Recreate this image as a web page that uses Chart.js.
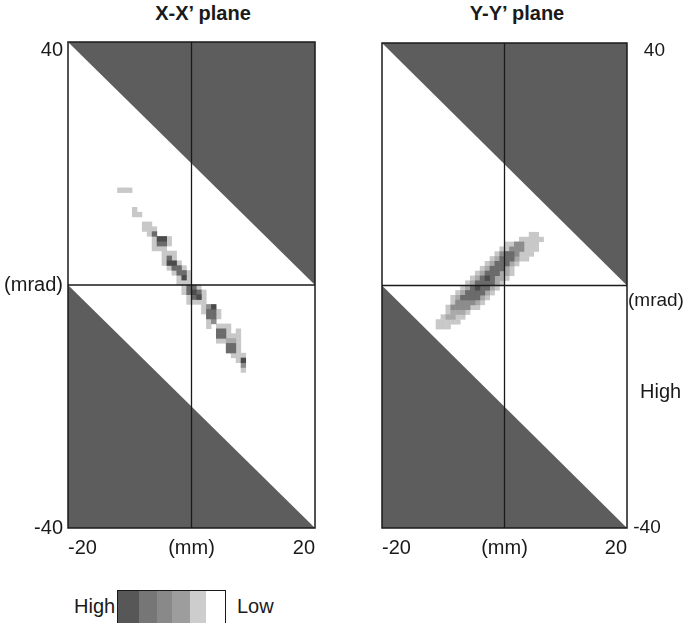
<!DOCTYPE html>
<html>
<head>
<meta charset="utf-8">
<script src="https://cdn.jsdelivr.net/npm/chart.js@4.4.1/dist/chart.umd.min.js"></script>
<style>
  body { margin: 0; background: #fff; width: 685px; height: 623px; overflow: hidden; position: relative;
         font-family: 'Liberation Sans', Arial, sans-serif; color: #1a1a1a; }
  canvas { position: absolute; top: 0; }
  #xxChart { left: 0; }
  #yyChart { left: 360px; }
  .title { position: absolute; top: 2px; font-size: 20px; font-weight: bold; white-space: nowrap; transform: translateX(-50%); }
  .label { position: absolute; font-size: 20px; white-space: nowrap; }
  .scale { position: absolute; left: 117px; top: 590px; width: 109px; height: 34px; border: 1.5px solid #1a1a1a; display: flex; box-sizing: border-box; }
  .scale div { height: 100%; }
</style>
</head>
<body>
<div class="title" style="left:203px">X-X’ plane</div>
<div class="title" style="left:517px">Y-Y’ plane</div>
<canvas id="xxChart" width="340" height="565"></canvas>
<canvas id="yyChart" width="325" height="565"></canvas>
<div class="label" style="left:640px; top:380px">High</div>
<div class="label" style="left:74px; top:595px">High</div>
<div class="scale" id="scale"></div>
<div class="label" style="left:237px; top:595px">Low</div>
<script>
// Axes
const xTicks = [-20, 0, 20];
const xTickLabels = ['-20', '(mm)', '20'];
const yTicks = [-40, 0, 40];
const yTickLabelsLeft = ['-40', '(mrad)', ['', '40']];
const yTickLabelsRight = [' -40', ['', '', '(mrad)'], ['', '   40']];

// Shaded triangles outside the acceptance band (edge points, mm / mrad)
const upperEdge = [[-20, 40], [20, 0]];
const lowerEdge = [[-20, 0], [20, -40]];

// Beam cells, 0.8 x 0.8 grid: [y, xFrom, xTo, level]  (level 5 = High)
const xxRuns = [
  [15.2, -12.0, -10.4, 1],
  [12.0, -9.6, -9.6, 1],
  [11.2, -9.6, -8.8, 1],
  [9.6, -8.0, -7.2, 1],
  [8.8, -8.0, -6.4, 1],
  [8.0, -7.2, -6.4, 1],
  [8.0, -6.4, -6.4, 4],
  [7.2, -6.4, -4.0, 1],
  [7.2, -5.6, -4.8, 5],
  [6.4, -6.4, -4.0, 1],
  [6.4, -5.6, -4.8, 4],
  [5.6, -6.4, -4.8, 1],
  [4.8, -4.8, -3.2, 1],
  [4.0, -4.8, -3.2, 1],
  [4.0, -4.0, -4.0, 4],
  [3.2, -4.8, -2.4, 1],
  [3.2, -4.0, -3.2, 5],
  [2.4, -4.0, -1.6, 1],
  [2.4, -3.2, -2.4, 4],
  [1.6, -3.2, -0.8, 1],
  [1.6, -2.4, -1.6, 4],
  [0.8, -2.4, -0.8, 1],
  [0.8, -1.6, -1.6, 5],
  [0.0, -2.4, -0.8, 1],
  [-0.8, -1.6, 0.8, 1],
  [-0.8, -0.8, 0.0, 4],
  [-1.6, -1.6, 1.6, 1],
  [-1.6, -0.8, 0.8, 4],
  [-1.6, 0.0, 0.0, 5],
  [-2.4, -0.8, 1.6, 1],
  [-2.4, 0.0, 0.8, 4],
  [-2.4, 0.8, 0.8, 5],
  [-3.2, -0.8, 1.6, 1],
  [-4.0, 1.6, 3.2, 1],
  [-4.0, 2.4, 2.4, 3],
  [-4.0, 3.2, 3.2, 5],
  [-4.8, 1.6, 4.0, 1],
  [-4.8, 2.4, 3.2, 4],
  [-5.6, 2.4, 4.0, 1],
  [-5.6, 2.4, 3.2, 4],
  [-6.4, 2.4, 3.2, 1],
  [-6.4, 3.2, 3.2, 3],
  [-7.2, 2.4, 2.4, 1],
  [-7.2, 4.0, 5.6, 1],
  [-8.0, 4.0, 5.6, 1],
  [-8.0, 4.0, 4.8, 4],
  [-8.0, 7.2, 7.2, 1],
  [-8.8, 5.6, 7.2, 1],
  [-8.8, 4.0, 4.8, 4],
  [-9.6, 4.0, 7.2, 1],
  [-9.6, 5.6, 6.4, 2],
  [-10.4, 5.6, 7.2, 1],
  [-10.4, 5.6, 6.4, 4],
  [-11.2, 5.6, 7.2, 1],
  [-11.2, 5.6, 6.4, 4],
  [-12.0, 6.4, 8.0, 1],
  [-12.8, 7.2, 8.0, 1],
  [-12.8, 8.0, 8.0, 5],
  [-13.6, 8.0, 8.0, 3],
  [-14.4, 8.0, 8.0, 1]
];

const yyRuns = [
  [8.0, 4.0, 4.8, 1],
  [7.2, 2.4, 5.6, 1],
  [6.4, 0.0, 4.8, 1],
  [6.4, 1.6, 2.4, 3],
  [5.6, -0.8, 4.8, 1],
  [5.6, 0.8, 2.4, 3],
  [4.8, -1.6, 4.0, 1],
  [4.8, -0.8, 1.6, 3],
  [4.8, 0.0, 0.8, 4],
  [4.0, -2.4, 3.2, 1],
  [4.0, -1.6, 1.6, 2],
  [4.0, -0.8, 0.8, 4],
  [3.2, -3.2, 1.6, 1],
  [3.2, -2.4, 0.8, 2],
  [3.2, -1.6, 0.0, 4],
  [2.4, -4.0, 0.8, 1],
  [2.4, -3.2, 0.0, 2],
  [2.4, -2.4, -0.8, 4],
  [1.6, -4.8, 0.8, 1],
  [1.6, -4.0, 0.0, 2],
  [1.6, -3.2, -1.6, 4],
  [0.8, -5.6, 0.0, 1],
  [0.8, -4.8, -0.8, 2],
  [0.8, -4.0, -2.4, 4],
  [0.8, -3.2, -3.2, 5],
  [0.0, -6.4, -0.8, 1],
  [0.0, -5.6, -1.6, 2],
  [0.0, -4.8, -2.4, 4],
  [-0.8, -7.2, -1.6, 1],
  [-0.8, -6.4, -2.4, 2],
  [-0.8, -5.6, -3.2, 4],
  [-0.8, -4.8, -4.8, 5],
  [-1.6, -8.0, -2.4, 1],
  [-1.6, -7.2, -3.2, 2],
  [-1.6, -6.4, -4.0, 4],
  [-2.4, -8.8, -3.2, 1],
  [-2.4, -8.0, -4.0, 2],
  [-2.4, -7.2, -4.8, 4],
  [-3.2, -8.8, -4.0, 1],
  [-3.2, -8.0, -4.8, 2],
  [-3.2, -8.0, -5.6, 3],
  [-4.0, -9.6, -4.8, 1],
  [-4.0, -8.8, -6.4, 3],
  [-4.8, -9.6, -6.4, 1],
  [-4.8, -8.8, -7.2, 2],
  [-5.6, -10.4, -7.2, 1],
  [-5.6, -9.6, -8.8, 2],
  [-6.4, -11.2, -8.0, 1],
  [-7.2, -11.2, -9.6, 1]
];

const cellSize = 0.8;
const levelColors = ['#c8c8c8', '#a9a9a9', '#8c8c8c', '#6b6b6b', '#4b4b4b'];
const shadeColor = '#5d5d5d';
const inkColor = '#1a1a1a';

// Colour scale under the plots, High -> Low
const scaleColors = ['#575757', '#767676', '#898989', '#9d9d9d', '#cdcdcd', '#ffffff'];
const scaleWidths = [21, 19, 15, 18, 17, 19];

const tickFont = { family: "'Liberation Sans', Arial, sans-serif", size: 20, lineHeight: 0.8 };

function cellsOf(runs, level) {
  const pts = [];
  runs.filter(r => r[3] === level).forEach(([y, x0, x1]) => {
    const n = Math.round((x1 - x0) / cellSize);
    for (let i = 0; i <= n; i++) {
      pts.push({ x: x0 + i * cellSize + cellSize / 2, y: y + cellSize / 2 });
    }
  });
  return pts;
}

// half-diagonal of one grid cell in pixels, for the 'rect' point style
function cellRadius(chart) {
  const s = chart.scales.x;
  const w = Math.abs(s.getPixelForValue(cellSize) - s.getPixelForValue(0));
  return (w + 0.4) / (2 * Math.SQRT1_2);
}

const framePlugin = {
  id: 'frame',
  afterDatasetsDraw(chart) {
    const { ctx, chartArea: a } = chart;
    ctx.save();
    ctx.strokeStyle = inkColor;
    ctx.lineWidth = 1.5;
    ctx.strokeRect(a.left, a.top, a.right - a.left, a.bottom - a.top);
    ctx.restore();
  }
};

function makeChart(id, runs, yPosition, yLabels, yWidth, yFontSize, yPadding, padding) {
  const datasets = [];

  // crosshair through the origin
  datasets.push({ data: [{ x: 0, y: -40 }, { x: 0, y: 40 }], showLine: true, borderColor: inkColor, borderWidth: 1.3, pointRadius: 0, order: 0 });
  datasets.push({ data: [{ x: -20, y: 0 }, { x: 20, y: 0 }], showLine: true, borderColor: inkColor, borderWidth: 1.3, pointRadius: 0, order: 0 });

  for (let lvl = 5; lvl >= 1; lvl--) {
    datasets.push({
      data: cellsOf(runs, lvl),
      pointStyle: 'rect',
      pointRadius: c => cellRadius(c.chart),
      pointBackgroundColor: levelColors[lvl - 1],
      pointBorderWidth: 0,
      order: 6 - lvl
    });
  }

  datasets.push({ data: upperEdge.map(([x, y]) => ({ x, y })), showLine: true, fill: 'end', backgroundColor: shadeColor, borderWidth: 0, pointRadius: 0, order: 10 });
  datasets.push({ data: lowerEdge.map(([x, y]) => ({ x, y })), showLine: true, fill: 'start', backgroundColor: shadeColor, borderWidth: 0, pointRadius: 0, order: 10 });

  return new Chart(document.getElementById(id), {
    type: 'scatter',
    data: { datasets },
    options: {
      responsive: false,
      animation: false,
      events: [],
      layout: { padding },
      plugins: { legend: { display: false }, tooltip: { enabled: false } },
      scales: {
        x: {
          type: 'linear', min: -20, max: 20,
          afterBuildTicks: s => { s.ticks = xTicks.map(v => ({ value: v })); },
          afterFit: s => { s.height = 37; },
          ticks: { align: 'inner', autoSkip: false, maxRotation: 0, padding: 8, color: inkColor,
                   font: { ...tickFont, lineHeight: 1.2 },
                   callback: (v, i) => xTickLabels[i] },
          grid: { display: false, drawTicks: false },
          border: { display: false }
        },
        y: {
          type: 'linear', min: -40, max: 40, position: yPosition,
          afterBuildTicks: s => { s.ticks = yTicks.map(v => ({ value: v })); },
          afterFit: s => { s.width = yWidth; },
          ticks: { autoSkip: false, padding: yPadding, color: inkColor, font: { ...tickFont, size: yFontSize },
                   callback: (v, i) => yLabels[i] },
          grid: { display: false, drawTicks: false },
          border: { display: false }
        }
      }
    },
    plugins: [framePlugin]
  });
}

makeChart('xxChart', xxRuns, 'left', yTickLabelsLeft, 68, 20, 5, { top: 42, right: 25, left: 0, bottom: 0 });
makeChart('yyChart', yyRuns, 'right', yTickLabelsRight, 58, 19, 1, { top: 43, right: 0, left: 22, bottom: 0 });

// colour scale
const scaleBox = document.getElementById('scale');
scaleColors.forEach((c, i) => {
  const d = document.createElement('div');
  d.style.background = c;
  d.style.width = scaleWidths[i] + 'px';
  scaleBox.appendChild(d);
});
</script>
</body>
</html>
